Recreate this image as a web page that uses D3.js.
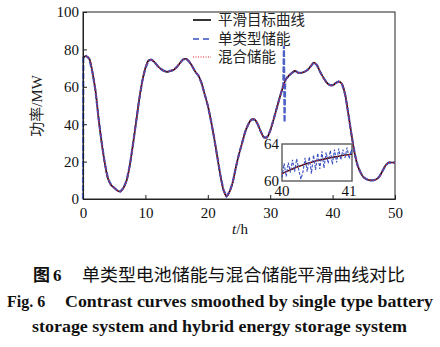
<!DOCTYPE html>
<html><head><meta charset="utf-8">
<script src="https://cdn.jsdelivr.net/npm/d3@7"></script>
<style>body{margin:0;background:#fff}</style>
</head><body>
<script>
// ---- data ----
const hours = [0,0.5,1,1.5,2,2.5,3,3.5,4,4.5,5,5.5,6,6.5,7,7.5,8,8.5,9,9.5,10,10.5,11,11.5,12,12.5,13,13.5,14,14.5,15,15.5,16,16.5,17,17.5,18,18.5,19,19.5,20,20.5,21,21.5,22,22.5,23,23.5,24,24.5,25,25.5,26,26.5,27,27.5,28,28.5,29,29.5,30,30.5,31,31.5,32,32.5,33,33.5,34,34.5,35,35.5,36,36.5,37,37.5,38,38.5,39,39.5,40,40.5,41,41.5,42,42.5,43,43.5,44,44.5,45,45.5,46,46.5,47,47.5,48,48.5,49,49.5,50];
const targetPower = [75.5,76.5,75,68,58,43,30,19,11,7.5,6,4.5,4,6,10,18,29,41,53,63,70,74,74.5,73,71,69.5,68.5,68,68.5,69,70.5,72.5,74.5,75,73.5,71,68,66,62,56,50,42,33,23,13,5,1.5,4,9,17,24,30,36,40,42.5,42.5,40,36,33,33,36.5,42,48,54,59.5,64,66,67.5,68.5,67.5,67.5,68,69,71,73,71.5,68,65,62.5,61,60.8,62,62.8,61.5,56,46,35,25,18,14,11.5,10.5,10,10,10.5,12,15,18,19.5,19.5,19.5];
const hybridPower = targetPower;
// single-type storage: same track plus start-up jump and spike near 32 h
const singleStartHours = [0, 0.05];
const singleStartPower = [0, 76];
const singleSpikeHours = [32.1, 32.2, 32.3, 32.4];
const singleSpikePower = [61, 82, 41, 63];
// inset (40 h - 41 h)
const insetHours = [40,40.25,40.5,40.75,41];
const insetTarget = [60.8,61.6,62.2,62.6,62.9];
const insetSingleHours = [40.00,40.03,40.06,40.09,40.12,40.15,40.18,40.21,40.24,40.27,40.30,40.33,40.36,40.39,40.42,40.45,40.48,40.51,40.54,40.57,40.60,40.63,40.66,40.69,40.72,40.75,40.78,40.81,40.84,40.87,40.90,40.93,40.96,40.99,41.0];
const insetSingle = [60.4,61.9,60.5,62.0,60.9,62.3,61.0,62.4,61.2,60.2,61.0,62.5,61.0,62.6,60.8,62.8,61.2,63.0,61.3,63.2,61.4,63.1,61.9,63.3,61.8,63.4,62.0,63.5,62.3,63.4,62.5,63.6,62.4,63.4,62.9];
const xTicks = [0,10,20,30,40,50];
const yTicks = [0,20,40,60,80,100];
const insetXTicks = [40,41];
const insetYTicks = [60,64];
const legendLabels = ["平滑目标曲线","单类型储能","混合储能"];

// ---- drawing ----
const W=440,H=347;
const svg=d3.select("body").append("svg").attr("width",W).attr("height",H);
const x=d3.scaleLinear().domain([0,50]).range([83,395]);
const y=d3.scaleLinear().domain([0,100]).range([199,12]);
const serif="'Liberation Serif','Times New Roman',serif";
const cjk="'Noto Sans CJK SC',sans-serif";

const mainPts=hours.map((h,i)=>[h,targetPower[i]]);
const hybPts=hours.map((h,i)=>[h,hybridPower[i]]);
let singlePts=singleStartHours.map((h,i)=>[h,singleStartPower[i]]);
hours.forEach((h,i)=>{ if(h>0) singlePts.push([h,targetPower[i]]); });
singlePts=singlePts.concat(singleSpikeHours.map((h,i)=>[h,singleSpikePower[i]])).sort((a,b)=>a[0]-b[0]);

const line=d3.line().x(d=>x(d[0])).y(d=>y(d[1])).curve(d3.curveCatmullRom);
const lineLin=d3.line().x(d=>x(d[0])).y(d=>y(d[1]));

// frame
svg.append("rect").attr("x",83).attr("y",12).attr("width",312).attr("height",187)
  .attr("fill","none").attr("stroke","#222").attr("stroke-width",1);

svg.append("path").attr("d",line(mainPts)).attr("fill","none").attr("stroke","#000").attr("stroke-width",1.6);
svg.append("path").attr("d",lineLin(singlePts)).attr("fill","none").attr("stroke","#3a4fc0").attr("stroke-width",2.2).attr("stroke-dasharray","6,2").attr("opacity",0.9);
svg.append("path").attr("d",line(hybPts)).attr("fill","none").attr("stroke","#e8202a").attr("stroke-width",1.2).attr("stroke-dasharray","1,1.5");

// axes
const xAxis=d3.axisBottom(x).tickValues(xTicks).tickSize(-4).tickPadding(8);
const gx=svg.append("g").attr("transform","translate(0,199)").call(xAxis);
const yAxis=d3.axisLeft(y).tickValues(yTicks).tickSize(-4).tickPadding(4);
const gy=svg.append("g").attr("transform","translate(83,0)").call(yAxis);
[gx,gy].forEach(g=>{
  g.select(".domain").attr("stroke","#222");
  g.selectAll(".tick line").attr("stroke","#222");
  g.selectAll("text").attr("font-family",serif).attr("font-size",15).attr("fill","#111");
});
gx.selectAll("text").attr("dy","0.75em");

// axis titles
const yl=svg.append("text").attr("transform","translate(42,106) rotate(-90)").attr("text-anchor","middle").attr("font-size",15).attr("fill","#222");
yl.append("tspan").attr("font-family",cjk).text("功率");
yl.append("tspan").attr("font-family",serif).text("/MW");
const xl=svg.append("text").attr("x",240).attr("y",234).attr("text-anchor","middle").attr("font-family",serif).attr("font-size",15).attr("fill","#111");
xl.append("tspan").attr("font-style","italic").text("t");
xl.append("tspan").text("/h");

// legend
const lgX0=193,lgX1=211,lgY=[20,39,57];
const lgStyles=[{c:"#000",w:1.6,d:null},{c:"#3a4fc0",w:1.6,d:"6,4"},{c:"#e8202a",w:1.2,d:"1,1.5"}];
legendLabels.forEach((t,i)=>{
  const s=lgStyles[i];
  const l=svg.append("line").attr("x1",lgX0).attr("x2",lgX1).attr("y1",lgY[i]).attr("y2",lgY[i]).attr("stroke",s.c).attr("stroke-width",s.w);
  if(s.d) l.attr("stroke-dasharray",s.d);
  svg.append("text").attr("x",218).attr("y",lgY[i]).attr("dy","0.35em").attr("font-family",cjk).attr("font-size",14.5).attr("fill","#222").text(t);
});

// inset
const ix=d3.scaleLinear().domain([40,41]).range([282,352]);
const iy=d3.scaleLinear().domain([60,64]).range([181,144]);
svg.append("rect").attr("x",282).attr("y",144).attr("width",70).attr("height",37).attr("fill","#fff").attr("stroke","#666").attr("stroke-width",1.5);
const iline=d3.line().x(d=>ix(d[0])).y(d=>iy(d[1]));
const itPts=insetHours.map((h,i)=>[h,insetTarget[i]]);
svg.append("path").attr("d",iline.curve(d3.curveMonotoneX)(itPts)).attr("fill","none").attr("stroke","#000").attr("stroke-width",1.4);
svg.append("path").attr("d",d3.line().x(d=>ix(d[0])).y(d=>iy(d[1]))(insetSingleHours.map((h,i)=>[h,insetSingle[i]])))
  .attr("fill","none").attr("stroke","#3a4fc0").attr("stroke-width",1.1).attr("stroke-dasharray","3,1.5");
svg.append("path").attr("d",d3.line().x(d=>ix(d[0])).y(d=>iy(d[1])).curve(d3.curveMonotoneX)(itPts)).attr("fill","none").attr("stroke","#e8202a").attr("stroke-width",1.1).attr("stroke-dasharray","1,1.5");
insetYTicks.forEach(v=>{
  svg.append("text").attr("x",279).attr("y",iy(v)).attr("dy","0.35em").attr("text-anchor","end").attr("font-family",serif).attr("font-size",15).attr("fill","#111").text(v);
});
insetXTicks.forEach(v=>{
  svg.append("text").attr("x",ix(v)-(v===41?3:0)).attr("y",191).attr("dy","0.35em").attr("text-anchor","middle").attr("font-family",serif).attr("font-size",15).attr("fill","#111").text(v);
});

// caption
const c1=svg.append("g");
c1.append("text").attr("x",33).attr("y",281).attr("font-family",cjk).attr("font-weight","bold").attr("font-size",17).attr("fill","#111").text("图");
c1.append("text").attr("x",53).attr("y",281).attr("font-family",serif).attr("font-weight","bold").attr("font-size",17).attr("fill","#111").text("6");
c1.append("text").attr("x",82).attr("y",281).attr("font-family",cjk).attr("font-size",17.5).attr("fill","#111")
  .attr("textLength",323).attr("lengthAdjust","spacingAndGlyphs").text("单类型电池储能与混合储能平滑曲线对比");
svg.append("text").attr("x",7).attr("y",307).attr("font-family",serif).attr("font-weight","bold").attr("font-size",16).attr("fill","#111").text("Fig. 6");
svg.append("text").attr("x",65).attr("y",307).attr("font-family",serif).attr("font-weight","bold").attr("font-size",16).attr("fill","#111")
  .attr("textLength",368).attr("lengthAdjust","spacingAndGlyphs").text("Contrast curves smoothed by single type battery");
svg.append("text").attr("x",32).attr("y",332).attr("font-family",serif).attr("font-weight","bold").attr("font-size",16).attr("fill","#111")
  .attr("textLength",375).attr("lengthAdjust","spacingAndGlyphs").text("storage system and hybrid energy storage system");
</script>
</body></html>
